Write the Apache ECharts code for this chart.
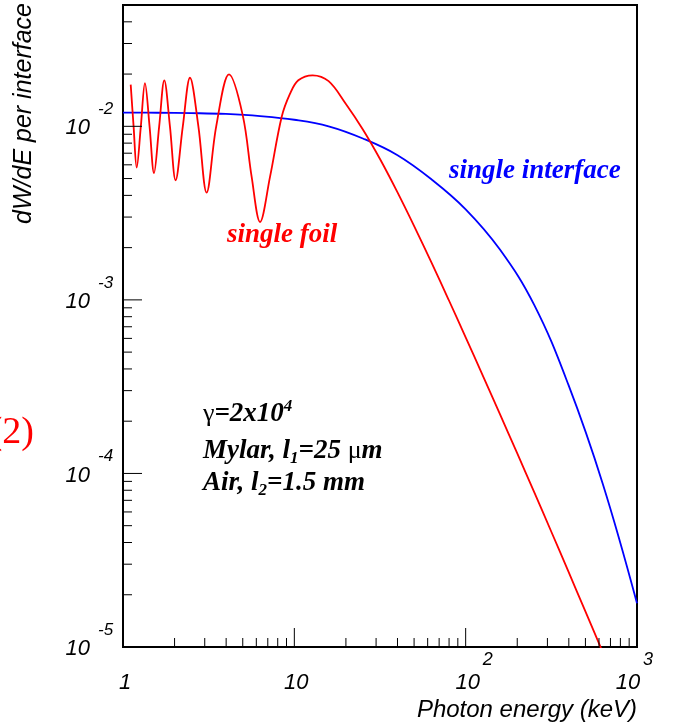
<!DOCTYPE html>
<html><head><meta charset="utf-8">
<script src="https://cdn.jsdelivr.net/npm/echarts@6/dist/echarts.min.js"></script>
<style>html,body{margin:0;padding:0;background:#fff}#c{width:683px;height:724px}</style>
</head><body><div id="c"></div>
<script>
// ---- axis ranges ----
const xMin = 1, xMax = 1000, yMin = 1e-5, yMax = 0.05;

// ---- single foil (red) : photon energy (keV) and dW/dE ----
const foilE = [1.109, 1.153, 1.202, 1.271, 1.343, 1.429, 1.517, 1.626, 1.742, 1.879, 2.028, 2.234, 2.460, 2.754, 3.076, 3.50, 4.159, 5.000, 5.636, 6.310, 7.211, 8.433, 9.44, 10.55, 12.79, 15.85, 19.95, 25.12, 31.62, 39.81, 50.12, 63.10, 79.43, 100, 125.9, 158.5, 199.5, 251.2, 316.2, 398.1, 501.2, 631.0];
const foilW = [0.01738, 0.0100, 0.00578, 0.0100, 0.01774, 0.0100, 0.00538, 0.0100, 0.01841, 0.0100, 0.00489, 0.0100, 0.01905, 0.0100, 0.00415, 0.0100, 0.01991, 0.01156, 0.00511, 0.00281, 0.00511, 0.01132, 0.01542, 0.01841, 0.01968, 0.01820, 0.01349, 0.009594, 0.006486, 0.004207, 0.002655, 0.001644, 0.001005, 0.0006081, 0.0003664, 0.0002198, 0.0001312, 0.00007798, 0.00004613, 0.00002716, 0.00001592, 0.000009333];

// ---- single interface (blue) ----
const ifaceE = [1, 1.585, 2.512, 3.981, 6.310, 10, 15.85, 25.12, 39.81, 63.10, 100, 158.5, 251.2, 398.1, 631.0, 1000];
const ifaceW = [0.01199, 0.01197, 0.01191, 0.01178, 0.01146, 0.01091, 0.01000, 0.008511, 0.006839, 0.004955, 0.003327, 0.001950, 0.0009354, 0.0003236, 0.0000873, 0.00001786];

// ---- ticks and tick labels ----
const xMajorTicks = [10, 100];
const xMinorTicks = [2,3,4,5,6,7,8,9,20,30,40,50,60,70,80,90,200,300,400,500,600,700,800,900];
const yMajorTicks = [1e-4, 1e-3, 1e-2];
const yMinorTicks = [2e-5,3e-5,4e-5,5e-5,6e-5,7e-5,8e-5,9e-5,2e-4,3e-4,4e-4,5e-4,6e-4,7e-4,8e-4,9e-4,2e-3,3e-3,4e-3,5e-3,6e-3,7e-3,8e-3,9e-3,2e-2,3e-2,4e-2];
const xLabelValues = [1, 10, 100, 1000];
const xLabelBase = ['1', '10', '10', '10'];
const xLabelExp = ['', '', '2', '3'];
const yLabelValues = [1e-5, 1e-4, 1e-3, 1e-2];
const yLabelBase = ['10', '10', '10', '10'];
const yLabelExp = ['-5', '-4', '-3', '-2'];

const SANS = '"Liberation Sans", Arial, sans-serif';
const SERIF = '"Liberation Serif", "Times New Roman", serif';

const chart = echarts.init(document.getElementById('c'), null, {renderer: 'canvas'});

const foilData = foilE.map((e, i) => [e, foilW[i]]);
const ifaceData = ifaceE.map((e, i) => [e, ifaceW[i]]);

const xTickData = xMajorTicks.map(v => [v, yMin, 1]).concat(xMinorTicks.map(v => [v, yMin, 0]));
const yTickData = yMajorTicks.map(v => [xMin, v, 1]).concat(yMinorTicks.map(v => [xMin, v, 0]));
const xLabData = xLabelValues.map((v, i) => [v, yMin, i]);
const yLabData = yLabelValues.map((v, i) => [xMin, v, i]);

const option = {
  animation: false,
  backgroundColor: '#fff',
  grid: {left: 123, top: 5, width: 514, height: 642, show: true, borderColor: '#000', borderWidth: 2, backgroundColor: 'transparent'},
  xAxis: {type: 'log', logBase: 10, min: xMin, max: xMax,
    axisLine: {show: false}, axisTick: {show: false}, axisLabel: {show: false}, splitLine: {show: false}},
  yAxis: {type: 'log', logBase: 10, min: yMin, max: yMax,
    axisLine: {show: false}, axisTick: {show: false}, axisLabel: {show: false}, splitLine: {show: false}},
  series: [
    {type: 'line', data: ifaceData, showSymbol: false, smooth: 0.4, lineStyle: {color: '#0000ff', width: 1.8}, z: 3},
    {type: 'line', data: foilData, showSymbol: false, smooth: 0.35, lineStyle: {color: '#ff0000', width: 1.8}, z: 4},
    {type: 'custom', data: xTickData, clip: false, z: 5,
      renderItem: (p, api) => {
        const c = api.coord([api.value(0), api.value(1)]);
        const len = api.value(2) ? 19 : 9;
        return {type: 'line', shape: {x1: c[0], y1: c[1], x2: c[0], y2: c[1] - len}, style: {stroke: '#000', lineWidth: 1}};
      }},
    {type: 'custom', data: yTickData, clip: false, z: 5,
      renderItem: (p, api) => {
        const c = api.coord([api.value(0), api.value(1)]);
        const len = api.value(2) ? 19 : 9;
        return {type: 'line', shape: {x1: c[0], y1: c[1], x2: c[0] + len, y2: c[1]}, style: {stroke: '#000', lineWidth: 1}};
      }},
    {type: 'custom', data: xLabData, clip: false, z: 5,
      renderItem: (p, api) => {
        const i = api.value(2);
        const c = api.coord([api.value(0), api.value(1)]);
        const shift = (i === xLabelValues.length - 1) ? -11 : 0;
        const children = [{type: 'text', style: {text: xLabelBase[i], x: c[0] + 2 + shift, y: c[1] + 36,
          font: 'italic 22px ' + SANS, fill: '#000', align: 'center', verticalAlign: 'middle'}}];
        if (xLabelExp[i]) children.push({type: 'text', style: {text: xLabelExp[i], x: c[0] + 17 + shift, y: c[1] + 13,
          font: 'italic 18px ' + SANS, fill: '#000', align: 'left', verticalAlign: 'middle'}});
        return {type: 'group', children};
      }},
    {type: 'custom', data: yLabData, clip: false, z: 5,
      renderItem: (p, api) => {
        const i = api.value(2);
        const c = api.coord([api.value(0), api.value(1)]);
        return {type: 'group', children: [
          {type: 'text', style: {text: yLabelBase[i], x: c[0] - 33, y: c[1] + 2,
            font: 'italic 22px ' + SANS, fill: '#000', align: 'right', verticalAlign: 'middle'}},
          {type: 'text', style: {text: yLabelExp[i], x: c[0] - 25, y: c[1] - 17,
            font: 'italic 17px ' + SANS, fill: '#000', align: 'left', verticalAlign: 'middle'}}
        ]};
      }}
  ],
  graphic: [
    {type: 'text', x: 24, y: 3, rotation: Math.PI / 2,
      style: {text: 'dW/dE per interface', font: 'italic 25px ' + SANS, fill: '#000', align: 'right', verticalAlign: 'middle'}},
    {type: 'text', x: 637, y: 710,
      style: {text: 'Photon energy (keV)', font: 'italic 24px ' + SANS, fill: '#000', align: 'right', verticalAlign: 'middle'}},
    {type: 'text', x: 449, y: 171,
      style: {text: 'single interface', font: 'italic bold 27px ' + SERIF, fill: '#0000ff', align: 'left', verticalAlign: 'middle'}},
    {type: 'text', x: 227, y: 235,
      style: {text: 'single foil', font: 'italic bold 27px ' + SERIF, fill: '#ff0000', align: 'left', verticalAlign: 'middle'}},
    {type: 'text', x: 34, y: 433,
      style: {text: '(2)', font: '38px ' + SERIF, fill: '#ff0000', align: 'right', verticalAlign: 'middle'}},
    {type: 'text', x: 203, y: 414,
      style: {text: '{g|γ}{t|=2x10}{sup|4}', align: 'left', verticalAlign: 'middle',
        rich: {
          g: {font: '26px ' + SERIF, fill: '#000', lineHeight: 32},
          t: {font: 'italic bold 27px ' + SERIF, fill: '#000', lineHeight: 32},
          sup: {font: 'italic bold 17px ' + SERIF, fill: '#000', lineHeight: 18, verticalAlign: 'top'}
        }}},
    {type: 'text', x: 203, y: 451,
      style: {text: '{t|Mylar, l}{sub|1}{t|=25 }{g|μ}{t|m}', align: 'left', verticalAlign: 'middle',
        rich: {
          g: {font: '26px ' + SERIF, fill: '#000', lineHeight: 32},
          t: {font: 'italic bold 27px ' + SERIF, fill: '#000', lineHeight: 32},
          sub: {font: 'italic bold 17px ' + SERIF, fill: '#000', lineHeight: 18, verticalAlign: 'bottom'}
        }}},
    {type: 'text', x: 203, y: 483,
      style: {text: '{t|Air, l}{sub|2}{t|=1.5 mm}', align: 'left', verticalAlign: 'middle',
        rich: {
          t: {font: 'italic bold 27px ' + SERIF, fill: '#000', lineHeight: 32},
          sub: {font: 'italic bold 17px ' + SERIF, fill: '#000', lineHeight: 18, verticalAlign: 'bottom'}
        }}}
  ]
};
chart.setOption(option);
</script>
</body></html>
